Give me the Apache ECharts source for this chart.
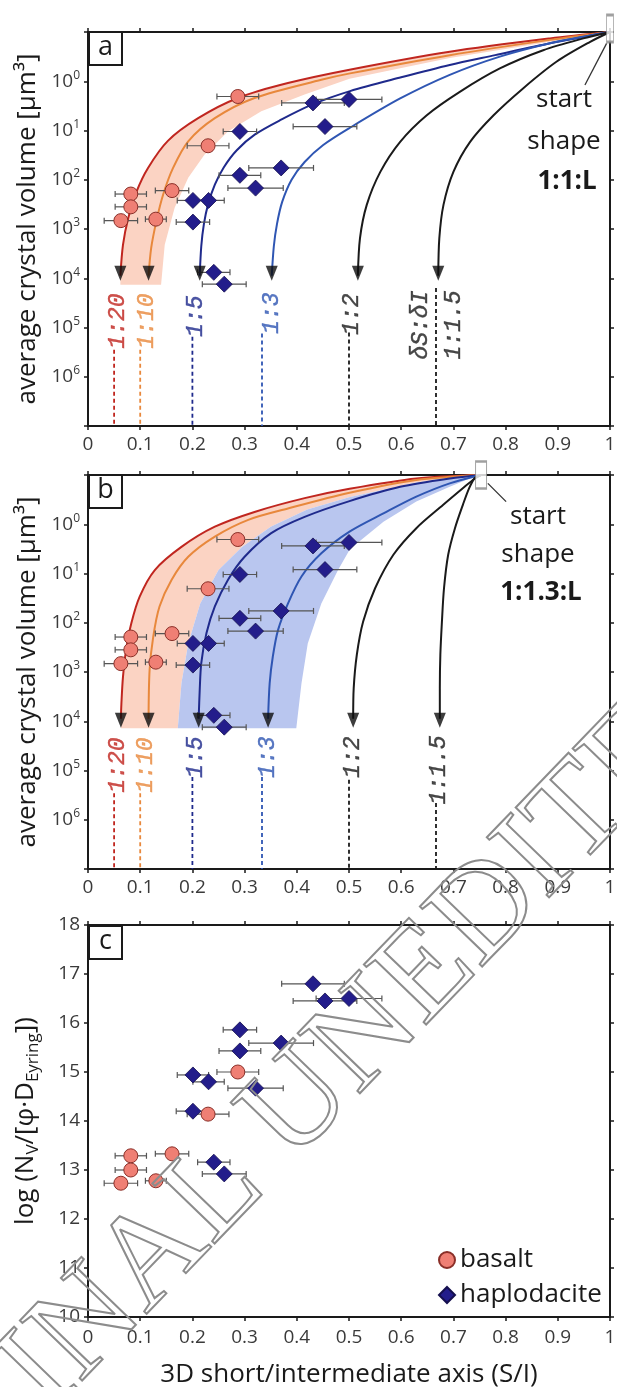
<!DOCTYPE html>
<html>
<head>
<meta charset="UTF-8">
<title>S/I shape evolution</title>
<script src="https://cdn.jsdelivr.net/npm/echarts@6/dist/echarts.min.js"></script>
<style>
  html, body { margin: 0; padding: 0; background: #fff; }
  #main { width: 617px; height: 1387px; }
</style>
</head>
<body>
<div id="main"></div>
<script>
// measured samples (S/I, log10 volume / log Nv)
var basaltSI  = [0.287, 0.230, 0.161, 0.082, 0.082, 0.063, 0.130];
var basaltErr = [0.040, 0.040, 0.032, 0.030, 0.030, 0.032, 0.020];
var basaltVol = [0.31, 1.31, 2.22, 2.29, 2.55, 2.83, 2.80];
var basaltNv  = [15.0, 14.14, 13.33, 13.29, 13.0, 12.73, 12.78];

var hapSI  = [0.431, 0.500, 0.454, 0.291, 0.370, 0.291, 0.321, 0.201, 0.231, 0.201, 0.241, 0.261];
var hapErr = [0.060, 0.063, 0.061, 0.032, 0.062, 0.040, 0.053, 0.030, 0.030, 0.032, 0.031, 0.042];
var hapVol = [0.44, 0.37, 0.92, 1.02, 1.76, 1.91, 2.17, 2.42, 2.42, 2.86, 3.88, 4.12];
var hapNv  = [16.8, 16.5, 16.45, 15.86, 15.59, 15.43, 14.67, 14.94, 14.8, 14.2, 13.16, 12.92];

// growth paths, panel a (start 1:1:L)
var curveA20 = [[1.0,-1.0],[0.885,-0.87],[0.693,-0.60],[0.501,-0.235],[0.383,0.036],[0.287,0.34],[0.211,0.75],[0.153,1.21],[0.115,1.76],[0.093,2.24],[0.077,2.78],[0.067,3.32],[0.062,3.95]];
var curveA10 = [[1.0,-1.0],[0.885,-0.84],[0.693,-0.53],[0.502,-0.16],[0.447,-0.03],[0.319,0.34],[0.243,0.75],[0.192,1.22],[0.163,1.76],[0.144,2.30],[0.131,2.84],[0.121,3.39],[0.116,3.95]];
var curveA5  = [[1.0,-1.0],[0.885,-0.77],[0.780,-0.53],[0.693,-0.33],[0.600,-0.08],[0.502,0.20],[0.430,0.47],[0.370,0.78],[0.320,1.08],[0.285,1.40],[0.260,1.75],[0.243,2.10],[0.230,2.50],[0.222,2.90],[0.217,3.35],[0.214,3.95]];
var curveA3  = [[1.0,-1.0],[0.962,-0.93],[0.885,-0.77],[0.789,-0.50],[0.693,-0.13],[0.598,0.35],[0.501,0.95],[0.450,1.30],[0.415,1.64],[0.390,2.00],[0.372,2.45],[0.362,2.90],[0.356,3.35],[0.352,3.95]];
var curveA2  = [[1.0,-1.0],[0.949,-0.87],[0.872,-0.63],[0.789,-0.26],[0.713,0.21],[0.649,0.69],[0.598,1.23],[0.560,1.84],[0.534,2.51],[0.521,3.19],[0.517,3.95]];
var curveA15 = [[1.0,-1.0],[0.962,-0.80],[0.898,-0.40],[0.834,0.14],[0.777,0.69],[0.732,1.23],[0.700,1.84],[0.681,2.51],[0.673,3.19],[0.671,3.95]];
var bandAEdge = [[1.0,-1.0],[0.885,-0.80],[0.693,-0.47],[0.501,-0.05],[0.415,0.27],[0.332,0.61],[0.268,1.02],[0.223,1.49],[0.192,1.96],[0.166,2.57],[0.147,3.32],[0.140,4.13]];

// growth paths, panel b (start 1:1.3:L)
var curveB20 = [[0.753,-1.0],[0.629,-0.93],[0.501,-0.72],[0.415,-0.53],[0.319,-0.25],[0.243,0.05],[0.179,0.46],[0.128,0.93],[0.099,1.47],[0.083,2.01],[0.073,2.55],[0.067,3.10],[0.064,3.64],[0.063,3.95]];
var curveB10 = [[0.753,-1.0],[0.629,-0.90],[0.501,-0.64],[0.383,-0.32],[0.307,-0.09],[0.243,0.25],[0.192,0.66],[0.160,1.13],[0.137,1.67],[0.125,2.28],[0.118,2.96],[0.116,3.95]];
var curveB5  = [[0.753,-1.0],[0.693,-0.93],[0.598,-0.76],[0.501,-0.47],[0.415,-0.15],[0.351,0.18],[0.300,0.66],[0.268,1.13],[0.243,1.67],[0.227,2.21],[0.217,2.82],[0.214,3.37],[0.212,3.95]];
var curveB3  = [[0.753,-1.0],[0.693,-0.83],[0.629,-0.56],[0.566,-0.22],[0.501,0.15],[0.447,0.59],[0.409,1.06],[0.383,1.61],[0.364,2.15],[0.354,2.69],[0.348,3.23],[0.345,3.95]];
var curveB2  = [[0.753,-1.0],[0.741,-0.93],[0.718,-0.73],[0.680,-0.39],[0.629,0.08],[0.585,0.62],[0.550,1.30],[0.527,1.98],[0.515,2.65],[0.509,3.33],[0.508,3.95]];
var curveB15 = [[0.753,-1.0],[0.741,-0.94],[0.730,-0.73],[0.718,-0.39],[0.703,0.08],[0.690,0.62],[0.682,1.30],[0.678,1.98],[0.675,2.65],[0.674,3.33],[0.674,3.95]];
var bandBMid   = [[0.753,-1.0],[0.629,-0.85],[0.500,-0.55],[0.420,-0.30],[0.350,0.05],[0.295,0.46],[0.250,0.93],[0.215,1.61],[0.192,2.42],[0.179,3.23],[0.172,4.14]];
var bandBRight = [[0.753,-1.0],[0.738,-0.96],[0.693,-0.76],[0.629,-0.46],[0.566,-0.05],[0.502,0.50],[0.479,0.93],[0.447,1.61],[0.421,2.42],[0.409,3.23],[0.399,4.14]];

var ratioNamesA = ['1:20', '1:10', '1:5', '1:3', '1:2', '\u03b4S:\u03b4I\n1:1.5'];
var ratioNamesB = ['1:20', '1:10', '1:5', '1:3', '1:2', '1:1.5'];
var ratioX = [0.05, 0.1, 0.2, 1 / 3, 0.5, 2 / 3];
var dashStartA = [5.45, 5.45, 5.19, 5.12, 5.10, 4.20];
var dashStartB = [5.46, 5.46, 5.13, 5.13, 5.19, 5.66];
var labelPosA = [[0.057,4.87],[0.113,4.87],[0.207,4.77],[0.352,4.71],[0.506,4.73],[0.670,4.95]];
var labelPosB = [[0.057,4.89],[0.111,4.89],[0.207,4.73],[0.345,4.73],[0.508,4.73],[0.672,4.99]];
var ratioColors = ['#c0261f', '#e8883c', '#1f2a8c', '#2f56b3', '#1a1a1a', '#1a1a1a'];

var startA = [1.0, -1.07], startB = [0.753, -1.0];
var leaderA = [[0.9935,-0.77],[0.952,0.075]];
var leaderB = [[0.766,-0.83],[0.801,-0.46]];

var FONT = '"Open Sans", "DejaVu Sans", sans-serif';
var INK = '#1a1a1a';
var chart = echarts.init(document.getElementById('main'));

function fmtX(v) {
  var r = Math.round(v * 10) / 10;
  if (r === 0) return '0';
  if (r === 1) return '1';
  return r.toFixed(1);
}

var xAxes = [], yAxes = [];
[0, 1, 2].forEach(function (g) {
  xAxes.push({
    type: 'value', gridIndex: g, min: 0, max: 1, interval: 0.1, position: 'bottom',
    axisLine: { onZero: false, lineStyle: { color: INK, width: 2 } },
    axisTick: { length: 4, lineStyle: { color: INK, width: 1.5 } },
    splitLine: { show: false },
    axisLabel: { margin: g === 2 ? 11 : 9, color: '#3a3a3a', fontSize: 19, fontFamily: FONT, formatter: fmtX },
    name: g === 2 ? '3D short/intermediate axis (S/I)' : '',
    nameLocation: 'middle', nameGap: 45,
    nameTextStyle: { color: INK, fontSize: 26, fontFamily: FONT }
  });
});
[0, 1, 2].forEach(function (g) {
  xAxes.push({
    type: 'value', gridIndex: g, min: 0, max: 1, interval: 0.1, position: 'top',
    axisLine: { onZero: false, lineStyle: { color: INK, width: 2 } },
    axisTick: { length: 4, lineStyle: { color: INK, width: 1.5 } },
    splitLine: { show: false }, axisLabel: { show: false }
  });
});
var volName = 'average crystal volume [\u00b5m\u00b3]';
[0, 1].forEach(function (g) {
  yAxes.push({
    type: 'value', gridIndex: g, min: -1, max: 7, interval: 1, inverse: true, position: 'left',
    axisLine: { onZero: false, lineStyle: { color: INK, width: 2 } },
    axisTick: { length: 4, lineStyle: { color: INK, width: 1.5 } },
    splitLine: { show: false },
    axisLabel: {
      margin: 8, color: '#3a3a3a', fontFamily: FONT,
      formatter: function (v) { return (v < 0 || v > 6) ? '' : '{b|10}{s|' + v + '}'; },
      rich: {
        b: { fontSize: 19, lineHeight: 24, fontFamily: FONT, color: '#3a3a3a' },
        s: { fontSize: 12, verticalAlign: 'top', fontFamily: FONT, color: '#3a3a3a' }
      }
    },
    name: volName, nameLocation: 'middle', nameRotate: 90, nameGap: 46,
    nameTextStyle: { color: INK, fontSize: 26, fontFamily: FONT }
  });
});
yAxes.push({
  type: 'value', gridIndex: 2, min: 10, max: 18, interval: 1, position: 'left',
  axisLine: { onZero: false, lineStyle: { color: INK, width: 2 } },
  axisTick: { length: 4, lineStyle: { color: INK, width: 1.5 } },
  splitLine: { show: false },
  axisLabel: { margin: 8, color: '#3a3a3a', fontSize: 19, fontFamily: FONT },
  name: '{n|log (N}{sub|V}{n|/[\u03c6\u00b7D}{sub|Eyring}{n|])}',
  nameLocation: 'middle', nameRotate: 90, nameGap: 46,
  nameTextStyle: {
    color: INK, fontFamily: FONT,
    rich: {
      n: { fontSize: 26, lineHeight: 32, fontFamily: FONT, color: INK },
      sub: { fontSize: 17, verticalAlign: 'bottom', fontFamily: FONT, color: INK }
    }
  }
});
[0, 1, 2].forEach(function (g) {
  yAxes.push({
    type: 'value', gridIndex: g, min: g === 2 ? 10 : -1, max: g === 2 ? 18 : 7, interval: 1,
    inverse: g !== 2, position: 'right',
    axisLine: { onZero: false, lineStyle: { color: INK, width: 2 } },
    axisTick: { length: 4, lineStyle: { color: INK, width: 1.5 } },
    splitLine: { show: false }, axisLabel: { show: false }
  });
});

function polygonSeries(i, pts, color) {
  return {
    type: 'custom', xAxisIndex: i, yAxisIndex: i, silent: true, z: 1,
    data: [[0.5, 0]],
    renderItem: function (params, api) {
      return {
        type: 'polygon',
        shape: { points: pts.map(function (p) { return api.coord(p); }) },
        style: { fill: color }
      };
    }
  };
}
function bandPoly(left, right, bottom) {
  var pts = left.slice();
  var last = left[left.length - 1];
  if (last[1] < bottom) pts.push([last[0], bottom]);
  return pts.concat(right.slice().reverse());
}
function curveSeries(i, pts, color) {
  return {
    type: 'line', xAxisIndex: i, yAxisIndex: i, data: pts, smooth: 0.3, symbol: 'none',
    silent: true, z: 3, lineStyle: { color: color, width: 2 }
  };
}
function dashSeries(i, x, from, color) {
  return {
    type: 'line', xAxisIndex: i, yAxisIndex: i, data: [[x, from], [x, 7]], symbol: 'none',
    silent: true, z: 3, lineStyle: { color: color, width: 1.8, type: [4, 3] }
  };
}
function errSeries(i, xs, ys, errs) {
  return {
    type: 'custom', xAxisIndex: i, yAxisIndex: i, silent: true, z: 4,
    data: xs.map(function (x, k) { return [x, ys[k], errs[k]]; }),
    renderItem: function (params, api) {
      var x = api.value(0), y = api.value(1), e = api.value(2);
      var a = api.coord([x - e, y]), b = api.coord([x + e, y]);
      var st = { stroke: '#555', lineWidth: 1.2 };
      return {
        type: 'group', children: [
          { type: 'line', shape: { x1: a[0], y1: a[1], x2: b[0], y2: b[1] }, style: st },
          { type: 'line', shape: { x1: a[0], y1: a[1] - 3, x2: a[0], y2: a[1] + 3 }, style: st },
          { type: 'line', shape: { x1: b[0], y1: b[1] - 3, x2: b[0], y2: b[1] + 3 }, style: st }
        ]
      };
    }
  };
}
function pointSeries(i, xs, ys) {
  return [{
    type: 'scatter', name: 'basalt', xAxisIndex: i, yAxisIndex: i, z: 5,
    data: xs.b.map(function (x, k) { return [x, ys.b[k]]; }),
    symbol: 'circle', symbolSize: 14,
    itemStyle: { color: '#ef7f74', borderColor: '#8a2f28', borderWidth: 1, opacity: 1 }
  }, {
    type: 'scatter', name: 'haplodacite', xAxisIndex: i, yAxisIndex: i, z: 5,
    data: xs.h.map(function (x, k) { return [x, ys.h[k]]; }),
    symbol: 'diamond', symbolSize: [16, 16],
    itemStyle: { color: '#231d8b', borderColor: '#15104f', borderWidth: 0.8, opacity: 1 }
  }];
}
function shapePanel(i, curves, names, dashStart, labelPos, arrowY, start, leader, startSize) {
  var s = [];
  curves.forEach(function (c, k) { s.push(curveSeries(i, c, ratioColors[k])); });
  ratioX.forEach(function (x, k) { s.push(dashSeries(i, x, dashStart[k], ratioColors[k])); });
  s.push({
    type: 'scatter', xAxisIndex: i, yAxisIndex: i, silent: true, z: 4,
    data: curves.map(function (c) { return [c[c.length - 1][0], arrowY]; }),
    symbol: 'triangle', symbolRotate: 180, symbolSize: [12, 15],
    itemStyle: { color: '#0d0d0d' }
  });
  labelPos.forEach(function (p, k) {
    s.push({
      type: 'scatter', xAxisIndex: i, yAxisIndex: i, silent: true, z: 4,
      data: [p], symbolSize: 1, itemStyle: { color: 'rgba(0,0,0,0)' },
      label: {
        show: true, position: 'inside', rotate: 90, formatter: names[k],
        fontFamily: '"Liberation Mono", "DejaVu Sans Mono", monospace', fontStyle: 'italic',
        fontSize: 23, lineHeight: 33, color: ratioColors[k],
        textBorderColor: ratioColors[k], textBorderWidth: 0.4
      }
    });
  });
  s.push({
    type: 'line', xAxisIndex: i, yAxisIndex: i, data: leader, symbol: 'none', silent: true, z: 4,
    lineStyle: { color: '#333', width: 1.3 }
  });
  s.push({
    type: 'scatter', xAxisIndex: i, yAxisIndex: i, data: [start], clip: false, silent: true, z: 6,
    symbol: 'rect', symbolSize: startSize,
    itemStyle: { color: '#fff', borderColor: '#888', borderWidth: 1.5 }
  });
  s = s.concat(errSeries(i, basaltSI, basaltVol, basaltErr));
  s = s.concat(errSeries(i, hapSI, hapVol, hapErr));
  return s.concat(pointSeries(i, { b: basaltSI, h: hapSI }, { b: basaltVol, h: hapVol }));
}

var SALMON = '#fbd3c3', BLUE = '#b9c6ef';
var series = [];
series.push(polygonSeries(0, bandPoly(curveA20, bandAEdge, 4.13), SALMON));
series.push(polygonSeries(1, bandPoly(curveB20, bandBMid, 4.14), SALMON));
series.push(polygonSeries(1, bandPoly(bandBMid, bandBRight, 4.14), BLUE));
series = series.concat(shapePanel(0, [curveA20, curveA10, curveA5, curveA3, curveA2, curveA15],
  ratioNamesA, dashStartA, labelPosA, 3.9, startA, leaderA, [7, 27]));
series = series.concat(shapePanel(1, [curveB20, curveB10, curveB5, curveB3, curveB2, curveB15],
  ratioNamesB, dashStartB, labelPosB, 3.98, startB, leaderB, [11, 27]));
series.push(errSeries(2, basaltSI, basaltNv, basaltErr));
series.push(errSeries(2, hapSI, hapNv, hapErr));
series = series.concat(pointSeries(2, { b: basaltSI, h: hapSI }, { b: basaltNv, h: hapNv }));

function txt(x, y, t, bold) {
  return {
    type: 'text', x: x, y: y, z: 50, silent: true,
    style: {
      text: t, font: (bold ? 'bold ' : '') + '26px ' + FONT, fill: INK,
      textAlign: 'center', align: 'center', textVerticalAlign: 'middle', verticalAlign: 'middle'
    }
  };
}
function panelTag(y, t) {
  return {
    type: 'group', x: 89, y: y, z: 50, silent: true, children: [
      { type: 'rect', shape: { x: 0, y: 0, width: 33, height: 33 }, style: { fill: '#fff', stroke: INK, lineWidth: 2 } },
      { type: 'text', x: 16.5, y: 15.5, style: { text: t, font: '27px ' + FONT, fill: INK,
        textAlign: 'center', align: 'center', textVerticalAlign: 'middle', verticalAlign: 'middle' } }
    ]
  };
}

chart.setOption({
  animation: false,
  backgroundColor: '#fff',
  grid: [
    { left: 88, top: 32, width: 522, height: 394, outerBoundsMode: 'none' },
    { left: 88, top: 475, width: 522, height: 394, outerBoundsMode: 'none' },
    { left: 88, top: 925, width: 522, height: 392, outerBoundsMode: 'none' }
  ],
  xAxis: xAxes,
  yAxis: yAxes,
  legend: {
    data: [{ name: 'basalt', icon: 'circle' }, { name: 'haplodacite', icon: 'diamond' }],
    orient: 'vertical', left: 433, top: 1238, itemWidth: 16, itemHeight: 16, itemGap: 1,
    selectedMode: false,
    textStyle: { fontSize: 26, fontFamily: FONT, color: INK, lineHeight: 34 }
  },
  graphic: [
    panelTag(32, 'a'), panelTag(475, 'b'), panelTag(926, 'c'),
    txt(564, 100, 'start'), txt(564, 142, 'shape'), txt(567, 182, '1:1:L', true),
    txt(538, 517, 'start'), txt(538, 555, 'shape'), txt(541, 593, '1:1.3:L', true),
    {
      type: 'text', x: -200, y: 1623, rotation: 46 * Math.PI / 180, z: 100, silent: true,
      style: {
        text: 'ORIGINAL UNEDITED', font: '132px "Liberation Serif", serif',
        fill: 'rgba(0,0,0,0)', stroke: '#8c8c8c', lineWidth: 2,
        textAlign: 'left', align: 'left', textVerticalAlign: 'middle', verticalAlign: 'middle'
      }
    }
  ],
  series: series
});
</script>
</body>
</html>
